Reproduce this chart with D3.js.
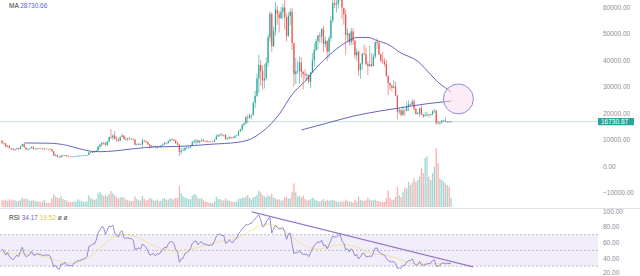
<!DOCTYPE html>
<html>
<head>
<meta charset="utf-8">
<script src="https://cdnjs.cloudflare.com/ajax/libs/d3/7.8.5/d3.min.js"></script>
<style>
  body { margin: 0; background: #fff; }
  text { font-family: "Liberation Sans", Arial, sans-serif; }
</style>
</head>
<body>
<svg width="640" height="276"></svg>
<script>
// weekly candles, May 2018 -> Jan 2023 (open = previous close)
var firstOpen = 9600;
var closes = [
  8700, 8480, 7350, 7700, 6750, 6460, 6150, 6360, 6740, 6360,
  7400, 8220, 7030, 6300, 6400, 6700, 7270, 6500, 6510, 6700,
  6620, 6550, 6330, 6480, 6420, 6410, 6380, 5550, 4020, 4170,
  3500, 3250, 3950, 3820, 4060, 3550, 3540, 3530, 3410, 3650,
  3680, 3830, 3860, 3920, 4000, 4020, 4130, 5100, 5150, 5300,
  5270, 5780, 7260, 8000, 8750, 8730, 8000, 9320, 10850, 10760,
  11480, 10200, 9850, 9530, 10980, 11500, 10200, 10140, 10380, 10300,
  10300, 9990, 8040, 8160, 8300, 8220, 9550, 9300, 9050, 8100,
  7300, 7400, 7500, 7070, 7500, 7390, 7760, 8180, 8700, 8600,
  9380, 9900, 9930, 9660, 8530, 8030, 5360, 5820, 5880, 6770,
  6900, 7120, 7690, 8880, 9300, 9670, 8900, 9440, 9740, 9330,
  9300, 9130, 9070, 9240, 9200, 9950, 11100, 11670, 11850, 11650,
  11700, 10250, 10330, 10920, 10770, 10670, 11380, 11500, 13030, 13780,
  15480, 16000, 18400, 18180, 19150, 19270, 23850, 26480, 33000, 38150,
  35800, 32260, 33100, 38900, 48580, 57400, 45240, 50970, 59000, 57350,
  55800, 58200, 59800, 56150, 49000, 56600, 58200, 46400, 34700, 35700,
  35800, 39100, 35500, 34700, 34250, 34250, 31800, 35400, 39850, 43800,
  47100, 49300, 48900, 51750, 46000, 47250, 43200, 48200, 54950, 61500,
  60850, 61300, 63270, 65500, 59700, 57300, 49400, 50100, 46700, 50800,
  47300, 41800, 43100, 36300, 38500, 42400, 42200, 38400, 37700, 38400,
  37800, 41300, 46800, 46400, 42150, 39700, 39450, 38500, 34000, 31300,
  30300, 29450, 29900, 26600, 20550, 21000, 19300, 20850, 20800, 22600,
  23300, 23200, 24300, 21500, 19550, 19800, 21800, 19400, 18800, 19050,
  19450, 19250, 19550, 20650, 20900, 16300, 16280, 16450, 17100, 17100,
  16750, 16840, 16540, 16730.87
];
var highs = [
  9700, 8880, 8540, 7780, 7760, 6780, 6830, 6550, 6840, 6780,
  7580, 8500, 8250, 7150, 6620, 6850, 7280, 7410, 6600, 6820,
  6800, 6700, 6670, 6920, 6530, 6530, 6620, 6420, 5620, 4430,
  4260, 3600, 4190, 4140, 4100, 4100, 3700, 3650, 3530, 3690,
  3700, 4200, 3900, 3950, 4100, 4070, 4150, 5340, 5460, 5600,
  5640, 5900, 7500, 8350, 8900, 9090, 8800, 9400, 11200, 13880,
  12000, 13200, 11100, 10650, 11100, 12320, 11600, 10950, 10630, 10900,
  10450, 10350, 10100, 8500, 8800, 8420, 10540, 9950, 9500, 9120,
  8230, 7900, 7650, 7650, 7550, 7700, 7850, 8450, 9200, 8800,
  9600, 10150, 10500, 10250, 9950, 9190, 8180, 6900, 6970, 7200,
  7470, 7250, 7720, 9480, 10070, 9950, 9920, 9750, 10430, 9990,
  9640, 9780, 9300, 9470, 9350, 10000, 12000, 11950, 12150, 12470,
  11800, 12080, 10650, 11200, 10990, 10950, 11500, 11730, 13350, 14100,
  15970, 16480, 18900, 19400, 19900, 19400, 24300, 28400, 34800, 41950,
  40100, 37850, 38500, 40950, 49700, 58350, 58000, 52600, 61800, 60600,
  58500, 60000, 61200, 64850, 57500, 58000, 59500, 59600, 46600, 40900,
  39500, 41300, 41000, 36000, 36600, 35100, 34600, 35500, 42600, 46200,
  48150, 49400, 50500, 52000, 52900, 48800, 47300, 49200, 56500, 62900,
  67000, 63700, 64300, 69000, 66400, 59400, 59100, 51900, 50200, 52100,
  52000, 47500, 44450, 43500, 38900, 42600, 45800, 44700, 39500, 45400,
  42600, 42300, 46900, 48200, 47200, 42400, 42980, 40800, 40000, 34200,
  31400, 30600, 32400, 31800, 26900, 21900, 21500, 22500, 21600, 24300,
  24700, 23650, 25200, 25100, 21900, 20500, 21900, 22800, 19700, 20400,
  20500, 19600, 19700, 21000, 21500, 21100, 17200, 16800, 17400, 17400,
  18400, 17000, 16950, 16780
];
var lows = [
  8350, 7950, 7040, 7060, 6600, 6120, 5750, 5790, 6320, 6070,
  6330, 7390, 6900, 6000, 5880, 6300, 6650, 6250, 6180, 6150,
  6450, 6470, 6150, 6330, 6380, 6250, 6290, 5320, 3650, 3600,
  3270, 3150, 3250, 3560, 3670, 3500, 3470, 3500, 3360, 3360,
  3560, 3670, 3700, 3700, 3830, 3900, 3940, 4100, 4960, 5080,
  5050, 5270, 5750, 6600, 7500, 8080, 7450, 7600, 8950, 10300,
  9700, 10100, 9070, 9170, 9380, 10900, 9800, 9740, 9320, 10000,
  9900, 9600, 7700, 7750, 7800, 7900, 7300, 8980, 8700, 8000,
  6500, 7000, 7100, 7000, 6430, 7050, 6850, 7670, 8050, 8200,
  8550, 9170, 9720, 9300, 8400, 8000, 3780, 4440, 5670, 5860,
  6460, 6550, 6780, 7650, 8560, 8100, 8700, 8630, 9270, 9200,
  9250, 8820, 8930, 9050, 9000, 9040, 9900, 10950, 11160, 11280,
  11120, 9840, 9880, 10200, 10140, 10370, 10530, 11250, 11400, 12900,
  13200, 14800, 15800, 16200, 18000, 17600, 19000, 21800, 26100, 27700,
  30400, 28850, 29250, 32300, 37400, 47000, 43000, 45000, 49300, 53300,
  50400, 55500, 55500, 51500, 47000, 48800, 53000, 43800, 30000, 31000,
  34800, 31000, 33300, 28800, 32700, 32100, 31100, 29300, 35200, 37600,
  43300, 43900, 46400, 46500, 42800, 44700, 39600, 40700, 47000, 53900,
  59500, 58000, 59400, 62300, 55600, 53300, 42000, 46900, 45500, 45600,
  45700, 40500, 39600, 34000, 32900, 36200, 41700, 38000, 34300, 37400,
  37200, 37600, 40500, 44200, 41900, 39200, 38500, 37600, 33700, 26700,
  28700, 28000, 29300, 26500, 17600, 19600, 18600, 19000, 18900, 20750,
  20700, 22400, 22800, 20800, 19500, 19500, 18500, 19300, 18100, 18500,
  18950, 18200, 18900, 19200, 20000, 15600, 15800, 15450, 16000, 16700,
  16600, 16350, 16450, 16500
];
// weekly volume, thousands
var volumes = [
  420, 380, 450, 360, 470, 380, 430, 400, 330, 350,
  420, 560, 480, 520, 440, 360, 380, 430, 330, 350,
  300, 280, 330, 420, 250, 240, 250, 520, 760, 620,
  560, 520, 660, 480, 420, 380, 300, 280, 290, 330,
  320, 460, 380, 360, 330, 300, 330, 700, 520, 460,
  420, 480, 820, 900, 760, 640, 700, 620, 760, 950,
  820, 700, 560, 500, 560, 600, 560, 440, 420, 380,
  360, 360, 620, 480, 420, 380, 650, 480, 380, 420,
  560, 480, 400, 380, 440, 360, 360, 480, 540, 420,
  460, 520, 480, 460, 560, 520, 1250, 820, 640, 580,
  520, 480, 460, 680, 780, 720, 560, 480, 520, 400,
  320, 300, 260, 250, 230, 340, 620, 480, 460, 420,
  380, 520, 400, 380, 320, 300, 320, 320, 500, 480,
  560, 540, 620, 700, 540, 420, 560, 620, 720, 980,
  860, 700, 620, 580, 720, 620, 780, 560, 520, 440,
  460, 380, 400, 560, 620, 500, 520, 900, 1400, 880,
  620, 680, 560, 680, 480, 380, 420, 460, 560, 480,
  400, 360, 320, 380, 480, 340, 420, 380, 400, 420,
  380, 320, 280, 300, 360, 320, 440, 360, 320, 300,
  260, 420, 330, 620, 420, 380, 380, 420, 560, 440,
  380, 400, 440, 360, 340, 320, 280, 300, 520, 980,
  560, 420, 440, 600, 1200, 700, 600, 900, 1150, 1100,
  1500, 1300, 1450, 1700, 1500, 1600, 1800, 2300, 2000, 2900,
  3000, 1800, 1600, 2000, 2400, 3500, 2600, 1700, 1600, 1500,
  1400, 1300, 1200, 540
];
var rsiValues = [
  52, 49, 44, 47, 42, 40, 38, 41, 44, 42,
  49, 54, 46, 42, 43, 45, 49, 44, 44, 46,
  45, 45, 43, 44, 44, 44, 43, 37, 29, 31,
  27, 26, 33, 32, 35, 31, 31, 31, 30, 34,
  35, 37, 37, 38, 39, 40, 42, 55, 56, 58,
  58, 63, 72, 76, 80, 79, 70, 76, 81, 80,
  82, 72, 69, 67, 73, 75, 66, 65, 66, 65,
  65, 63, 51, 52, 53, 52, 58, 56, 54, 49,
  44, 45, 46, 43, 46, 45, 48, 51, 54, 53,
  58, 61, 61, 59, 51, 48, 35, 39, 40, 46,
  47, 49, 52, 59, 61, 62, 57, 60, 61, 58,
  58, 57, 56, 57, 57, 62, 68, 70, 71, 69,
  69, 59, 60, 63, 61, 60, 64, 65, 71, 74,
  78, 79, 83, 82, 84, 84, 88, 90, 93, 95,
  89, 80, 81, 86, 90, 92, 72, 77, 82, 79,
  77, 78, 79, 74, 64, 71, 72, 58, 46, 47,
  47, 50, 46, 45, 45, 45, 42, 47, 52, 56,
  59, 61, 60, 63, 56, 57, 52, 57, 63, 68,
  67, 67, 69, 70, 62, 59, 51, 52, 48, 52,
  49, 43, 45, 39, 42, 46, 46, 42, 42, 43,
  42, 47, 53, 53, 48, 46, 45, 44, 40, 37,
  36, 35, 36, 33, 27, 28, 27, 31, 31, 35,
  37, 37, 39, 34, 31, 32, 36, 32, 31, 32,
  33, 33, 34, 37, 38, 30, 30, 31, 34, 34,
  33, 34, 33, 34.17
];
// moving averages (candle index, value)
var ma50Idx = [12, 26, 35, 42, 49, 53, 61, 71, 83, 96, 113, 128, 135, 140, 145, 150, 157, 164, 170, 179, 187, 192, 198, 203, 210, 215, 225, 232, 237, 240, 243];
var ma50Val = [8700, 8600, 7800, 6500, 5500, 5400, 5700, 6500, 7200, 7400, 8200, 9000, 10300, 12500, 15500, 19500, 27000, 32000, 37000, 43000, 47000, 48500, 48500, 47300, 45500, 43000, 39500, 34500, 31000, 29500, 27900];
var ma200Idx = [162, 175, 190, 205, 215, 229, 243];
var ma200Val = [13600, 16000, 18800, 20800, 21900, 23400, 24500];
var rsiMaIdx = [0, 10, 20, 30, 40, 50, 60, 70, 80, 90, 100, 110, 120, 130, 140, 150, 160, 170, 180, 190, 200, 210, 220, 230, 243];
var rsiMaVal = [48, 45, 46, 36, 31, 45, 70, 72, 58, 48, 50, 56, 63, 66, 86, 82, 60, 48, 58, 58, 44, 45, 32, 33, 33];

var priceTicks = [-10000, 0, 10000, 20000, 30000, 40000, 50000, 60000];
var rsiTicks = [20, 40, 60, 80, 100];
var rsiLevels = [70, 50, 30];
var trendIdx = [135, 255], trendVal = [99, 29];
var circleIdx = 247, circleVal = 25300;
var lastPrice = 16730.87;
var maText = "28730.66", rsiText = "34.17", rsiMaText = "19.52";

var svg = d3.select("svg"),
    width = +svg.attr("width"),
    height = +svg.attr("height");
var plotRight = 598;

var x = d3.scaleLinear().domain([0, closes.length - 1]).range([2, 451]);
var y = d3.scaleLinear().domain([0, 60000]).range([166, 7]);
var yVol = d3.scaleLinear().domain([0, 3500]).range([207, 148]);
var yRsi = d3.scaleLinear().domain([20, 100]).range([274, 211]);

var candles = closes.map(function(c, i) {
  return { i: i, o: i == 0 ? firstOpen : closes[i - 1], c: c, h: highs[i], l: lows[i], v: volumes[i] };
});

var defs = svg.append("defs");
defs.append("clipPath").attr("id", "clipMain").append("rect")
  .attr("x", 0).attr("y", 0).attr("width", plotRight).attr("height", 208);
defs.append("clipPath").attr("id", "clipRsi").append("rect")
  .attr("x", 0).attr("y", 209).attr("width", plotRight).attr("height", 67);

var up = "#26a69a", down = "#ef5350";

// pane separator
svg.append("line").attr("x1", 0).attr("x2", width).attr("y1", 208.5).attr("y2", 208.5)
  .attr("stroke", "#e0e3eb").attr("stroke-width", 1);

var main = svg.append("g").attr("clip-path", "url(#clipMain)");

// last price line
main.append("line")
  .attr("x1", 0).attr("x2", plotRight)
  .attr("y1", y(lastPrice)).attr("y2", y(lastPrice))
  .attr("stroke", up).attr("stroke-opacity", 0.45).attr("stroke-width", 0.7);

// volume
main.append("g").selectAll("rect")
  .data(candles).enter().append("rect")
    .attr("x", function(d){ return x(d.i) - 0.65 })
    .attr("width", 1.3)
    .attr("y", function(d){ return yVol(d.v) })
    .attr("height", function(d){ return yVol(0) - yVol(d.v) })
    .attr("fill", function(d){ return d.c >= d.o ? up : down })
    .attr("fill-opacity", 0.45);

// candles
var cg = main.append("g");
cg.selectAll("line")
  .data(candles).enter().append("line")
    .attr("x1", function(d){ return x(d.i) })
    .attr("x2", function(d){ return x(d.i) })
    .attr("y1", function(d){ return y(d.h) })
    .attr("y2", function(d){ return y(d.l) })
    .attr("stroke", function(d){ return d.c >= d.o ? up : down })
    .attr("stroke-width", 0.6);
cg.selectAll("rect")
  .data(candles).enter().append("rect")
    .attr("x", function(d){ return x(d.i) - 0.6 })
    .attr("width", 1.2)
    .attr("y", function(d){ return y(Math.max(d.o, d.c)) })
    .attr("height", function(d){ return Math.max(0.6, Math.abs(y(d.o) - y(d.c))) })
    .attr("fill", function(d){ return d.c >= d.o ? up : down });

// moving averages
var maLine = d3.line().curve(d3.curveMonotoneX);
main.append("path")
  .attr("d", maLine(ma50Idx.map(function(d, k){ return [x(d), y(ma50Val[k])] })))
  .attr("fill", "none").attr("stroke", "#5255b4").attr("stroke-width", 0.9);
main.append("path")
  .attr("d", maLine(ma200Idx.map(function(d, k){ return [x(d), y(ma200Val[k])] })))
  .attr("fill", "none").attr("stroke", "#5255b4").attr("stroke-width", 0.9);

// drawing: circle
main.append("circle")
  .attr("cx", x(circleIdx)).attr("cy", y(circleVal)).attr("r", 15)
  .attr("fill", "#f8dcef").attr("fill-opacity", 0.55)
  .attr("stroke", "#7f83dc").attr("stroke-width", 0.9);

// price axis
var pAxis = svg.append("g")
  .attr("transform", "translate(" + (plotRight + 2) + ",0)")
  .call(d3.axisRight(y).tickValues(priceTicks).tickSize(0).tickPadding(3).tickFormat(d3.format(".2f")));
pAxis.select(".domain").remove();
pAxis.selectAll("text").style("font-size", "6.5px").attr("fill", "#8a8d96");

// last price label
svg.append("rect")
  .attr("x", plotRight).attr("y", y(lastPrice) - 3.6)
  .attr("width", 36).attr("height", 7.2)
  .attr("fill", up);
svg.append("text")
  .attr("x", plotRight + 3).attr("y", y(lastPrice) + 2.3)
  .text(d3.format(".2f")(lastPrice))
  .style("font-size", "6.5px").attr("fill", "white");

// MA legend
var t1 = svg.append("text").attr("x", 9).attr("y", 8).style("font-size", "6.5px");
t1.append("tspan").text("MA ").attr("fill", "#333");
t1.append("tspan").text(maText).attr("fill", "#5b63d8");

// RSI pane
var rg = svg.append("g").attr("clip-path", "url(#clipRsi)");
rg.append("rect")
  .attr("x", 0).attr("width", plotRight)
  .attr("y", yRsi(70)).attr("height", yRsi(30) - yRsi(70))
  .attr("fill", "#7e57c2").attr("fill-opacity", 0.1);
rg.selectAll(".lvl")
  .data(rsiLevels).enter().append("line")
    .attr("x1", 0).attr("x2", plotRight)
    .attr("y1", function(d){ return yRsi(d) }).attr("y2", function(d){ return yRsi(d) })
    .attr("stroke", "#9a9aa6").attr("stroke-width", 0.6)
    .style("stroke-dasharray", "2,2");
rg.append("path")
  .attr("d", d3.line().curve(d3.curveBasis)(rsiMaIdx.map(function(d, k){ return [x(d), yRsi(rsiMaVal[k])] })))
  .attr("fill", "none").attr("stroke", "#f5d76e").attr("stroke-opacity", 0.75).attr("stroke-width", 0.8);
rg.append("path")
  .attr("d", d3.line()(rsiValues.map(function(d, i){ return [x(i), yRsi(d)] })))
  .attr("fill", "none").attr("stroke", "#7e6fc8").attr("stroke-width", 0.8);
rg.append("line")
  .attr("x1", x(trendIdx[0])).attr("y1", yRsi(trendVal[0]))
  .attr("x2", x(trendIdx[1])).attr("y2", yRsi(trendVal[1]))
  .attr("stroke", "#9575cd").attr("stroke-width", 1.2);

var rAxis = svg.append("g")
  .attr("transform", "translate(" + (plotRight + 2) + ",0)")
  .call(d3.axisRight(yRsi).tickValues(rsiTicks).tickSize(0).tickPadding(3).tickFormat(d3.format(".2f")));
rAxis.select(".domain").remove();
rAxis.selectAll("text").style("font-size", "6.5px").attr("fill", "#8a8d96");
// keep the lowest label inside the window
rAxis.selectAll("text").filter(function(d){ return d == 20 }).attr("dy", "0.05em");

var t2 = svg.append("text").attr("x", 9).attr("y", 220).style("font-size", "6.5px");
t2.append("tspan").text("RSI ").attr("fill", "#333");
t2.append("tspan").text(rsiText + " ").attr("fill", "#7e57c2");
t2.append("tspan").text(" " + rsiMaText + " ").attr("fill", "#e6c23a");
t2.append("tspan").text("  ø ø").attr("fill", "#555");
</script>
</body>
</html>
